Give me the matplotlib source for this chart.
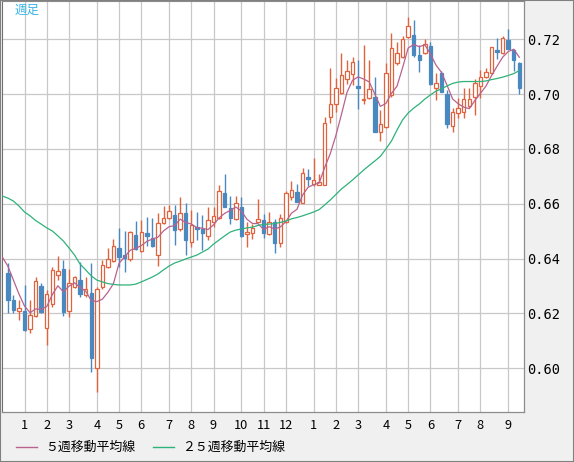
import numpy as np
import pandas as pd
import matplotlib
matplotlib.use('Agg')
import matplotlib.pyplot as plt
from matplotlib.patches import Rectangle
from matplotlib.lines import Line2D
from matplotlib.ticker import FormatStrFormatter

plt.rcParams['font.family'] = ['Noto Sans CJK JP', 'DejaVu Sans']

# 週番号（0 = 1月第1週）、ローソク足は -3 〜 89
weeks = np.arange(-3, 90)

opens = [0.6349, 0.6249, 0.6210, 0.6209, 0.6142, 0.6191, 0.6300, 0.6148, 0.6233, 0.6339,
         0.6362, 0.6209, 0.6298, 0.6322, 0.6266, 0.6276, 0.6000, 0.6295, 0.6368, 0.6392,
         0.6438, 0.6413, 0.6398, 0.6486, 0.6428, 0.6493, 0.6476, 0.6413, 0.6529, 0.6547,
         0.6559, 0.6508, 0.6566, 0.6460, 0.6514, 0.6508, 0.6484, 0.6533, 0.6547, 0.6639,
         0.6584, 0.6543, 0.6588, 0.6489, 0.6493, 0.6535, 0.6541, 0.6490, 0.6532, 0.6456,
         0.6534, 0.6626, 0.6643, 0.6604, 0.6697, 0.6671, 0.6669, 0.6669, 0.6915, 0.6964,
         0.7003, 0.7054, 0.7073, 0.7029, 0.6978, 0.6985, 0.6990, 0.6862, 0.6879, 0.6997,
         0.7112, 0.7135, 0.7210, 0.7216, 0.7143, 0.7149, 0.7176, 0.7024, 0.7076, 0.7000,
         0.6884, 0.6932, 0.6934, 0.6958, 0.6991, 0.7030, 0.7061, 0.7076, 0.7161, 0.7149,
         0.7197, 0.7161, 0.7115]

highs = [0.6385, 0.6267, 0.6249, 0.6304, 0.6249, 0.6334, 0.6310, 0.6286, 0.6371, 0.6410,
         0.6395, 0.6361, 0.6337, 0.6389, 0.6332, 0.6383, 0.6298, 0.6395, 0.6438, 0.6471,
         0.6513, 0.6502, 0.6502, 0.6538, 0.6541, 0.6551, 0.6547, 0.6565, 0.6592, 0.6596,
         0.6596, 0.6624, 0.6604, 0.6577, 0.6571, 0.6559, 0.6588, 0.6589, 0.6669, 0.6709,
         0.6628, 0.6627, 0.6626, 0.6534, 0.6525, 0.6618, 0.6563, 0.6570, 0.6543, 0.6562,
         0.6645, 0.6683, 0.6672, 0.6731, 0.6727, 0.6767, 0.6709, 0.6916, 0.7094, 0.7059,
         0.7149, 0.7126, 0.7135, 0.7124, 0.7179, 0.7124, 0.7062, 0.6942, 0.7112, 0.7223,
         0.7190, 0.7212, 0.7280, 0.7270, 0.7179, 0.7201, 0.7190, 0.7076, 0.7084, 0.7015,
         0.6948, 0.6985, 0.7021, 0.7021, 0.7055, 0.7088, 0.7096, 0.7173, 0.7204, 0.7213,
         0.7238, 0.7166, 0.7118]

lows = [0.6201, 0.6201, 0.6176, 0.6137, 0.6130, 0.6188, 0.6201, 0.6085, 0.6225, 0.6322,
        0.6191, 0.6188, 0.6293, 0.6259, 0.6259, 0.5988, 0.5915, 0.6288, 0.6365, 0.6389,
        0.6371, 0.6352, 0.6392, 0.6431, 0.6425, 0.6446, 0.6444, 0.6373, 0.6526, 0.6543,
        0.6450, 0.6502, 0.6413, 0.6444, 0.6468, 0.6431, 0.6468, 0.6516, 0.6545, 0.6587,
        0.6526, 0.6541, 0.6478, 0.6441, 0.6472, 0.6532, 0.6475, 0.6488, 0.6419, 0.6441,
        0.6530, 0.6614, 0.6605, 0.6602, 0.6665, 0.6666, 0.6667, 0.6667, 0.6896, 0.6935,
        0.7000, 0.7037, 0.7032, 0.6945, 0.6964, 0.6981, 0.6862, 0.6830, 0.6875, 0.6991,
        0.7106, 0.7130, 0.7205, 0.7135, 0.7081, 0.7145, 0.7033, 0.6979, 0.7006, 0.6875,
        0.6863, 0.6912, 0.6912, 0.6948, 0.6924, 0.6985, 0.7058, 0.7072, 0.7128, 0.7146,
        0.7163, 0.7084, 0.7000]

closes = [0.6249, 0.6213, 0.6219, 0.6140, 0.6193, 0.6317, 0.6206, 0.6271, 0.6357, 0.6354,
          0.6206, 0.6310, 0.6332, 0.6272, 0.6288, 0.6036, 0.6288, 0.6376, 0.6399, 0.6446,
          0.6407, 0.6403, 0.6497, 0.6434, 0.6496, 0.6484, 0.6447, 0.6529, 0.6549, 0.6573,
          0.6504, 0.6565, 0.6468, 0.6522, 0.6507, 0.6492, 0.6541, 0.6556, 0.6647, 0.6589,
          0.6547, 0.6602, 0.6484, 0.6497, 0.6511, 0.6544, 0.6495, 0.6535, 0.6456, 0.6547,
          0.6639, 0.6650, 0.6608, 0.6712, 0.6692, 0.6686, 0.6681, 0.6894, 0.6963, 0.7021,
          0.7069, 0.7084, 0.7116, 0.7024, 0.6982, 0.7018, 0.6863, 0.6890, 0.7076, 0.7167,
          0.7149, 0.7200, 0.7247, 0.7143, 0.7126, 0.7183, 0.7037, 0.7042, 0.7009, 0.6891,
          0.6934, 0.6948, 0.6981, 0.6981, 0.7040, 0.7064, 0.7080, 0.7171, 0.7155, 0.7204,
          0.7166, 0.7123, 0.7024]

# 移動平均線は -4 週から（左端で切れている）
ma_weeks = np.arange(-4, 90)
# ５週移動平均の先頭（表示範囲より前の終値を含む部分は図から読み取り）
ma5_head = [0.6406, 0.6373, 0.6322, 0.6271, 0.6227]

ma25 = [0.6628, 0.6621, 0.6610, 0.6592, 0.6570, 0.6556, 0.6539, 0.6526, 0.6512, 0.6501,
        0.6483, 0.6464, 0.6439, 0.6413, 0.6380, 0.6359, 0.6337, 0.6322, 0.6315, 0.6309,
        0.6306, 0.6304, 0.6304, 0.6304, 0.6307, 0.6315, 0.6324, 0.6333, 0.6344, 0.6359,
        0.6373, 0.6384, 0.6391, 0.6399, 0.6406, 0.6413, 0.6424, 0.6435, 0.6453, 0.6468,
        0.6483, 0.6497, 0.6504, 0.6508, 0.6512, 0.6515, 0.6521, 0.6525, 0.6526, 0.6528,
        0.6532, 0.6537, 0.6545, 0.6550, 0.6556, 0.6563, 0.6570, 0.6579, 0.6596, 0.6614,
        0.6634, 0.6654, 0.6670, 0.6687, 0.6705, 0.6723, 0.6740, 0.6756, 0.6773, 0.6800,
        0.6829, 0.6869, 0.6906, 0.6931, 0.6949, 0.6964, 0.6982, 0.6997, 0.7011, 0.7019,
        0.7030, 0.7039, 0.7044, 0.7046, 0.7046, 0.7046, 0.7046, 0.7048, 0.7053, 0.7057,
        0.7062, 0.7068, 0.7075, 0.7086]

month_pos = [0, 4, 8, 13, 17, 21, 26, 30, 34, 39, 43, 47, 52, 56, 60, 65, 69, 73, 78, 82, 87]
month_labels = ['1', '2', '3', '4', '5', '6', '7', '8', '9', '10', '11', '12',
                '1', '2', '3', '4', '5', '6', '7', '8', '9']
y_ticks = [0.60, 0.62, 0.64, 0.66, 0.68, 0.70, 0.72]

UP = '#e0633d'
DOWN = '#4a88c0'
MA5_COLOR = '#b8628e'
MA25_COLOR = '#2eb27a'

# 5週移動平均
ma5 = pd.Series(closes).rolling(5).mean().to_numpy()[4:]
ma5 = np.concatenate([ma5_head, ma5])

fig = plt.figure(figsize=(5.74, 4.62), dpi=100, facecolor='#f0f0f0')
ax = fig.add_axes([2 / 574, 50 / 462, 521.5 / 574, 411 / 462])
ax.set_facecolor('white')

body_w = 0.62
for xi, o, h, l, c in zip(weeks, opens, highs, lows, closes):
    col = UP if c >= o else DOWN
    ax.vlines(xi, l, h, color=col, lw=1.0, zorder=2)
    ax.add_patch(Rectangle((xi - body_w / 2, min(o, c)), body_w, max(abs(c - o), 0.00012),
                           facecolor='white' if c >= o else col, edgecolor=col,
                           lw=0.9, zorder=3))

ax.plot(ma_weeks, ma5, color=MA5_COLOR, lw=0.9, zorder=4)
ax.plot(ma_weeks, ma25, color=MA25_COLOR, lw=0.9, zorder=4)

ax.set_xlim(-4.05, 89.75)
ax.set_ylim(0.58406, 0.73397)
ax.set_xticks(month_pos, month_labels)
ax.set_yticks(y_ticks)
ax.yaxis.set_major_formatter(FormatStrFormatter('%.2f'))
ax.yaxis.tick_right()
ax.tick_params(axis='y', length=0, pad=2.5, labelsize=9.8, labelfontfamily='DejaVu Sans Mono')
ax.tick_params(axis='x', length=0, pad=5, labelsize=9.2)
ax.grid(True, color='#c8c8c8', lw=0.9)
ax.set_axisbelow(True)

for side in ['right', 'bottom']:
    ax.spines[side].set_color('#8c8c8c')
    ax.spines[side].set_linewidth(0.9)
ax.spines['left'].set_color('#6e6e6e')
ax.spines['top'].set_color('#8c8c8c')

# 枠
fig.patches.append(Rectangle((0, 0), 1, 1, transform=fig.transFigure, fill=False,
                             edgecolor='#808080', lw=1.5))

fig.text(15 / 574, 1 - 10.5 / 462, '週足', color='#3ab4e6', fontsize=9,
         va='center', ha='left')

# 凡例
y_leg = 1 - 447 / 462
fig.add_artist(Line2D([16 / 574, 36.5 / 574], [y_leg, y_leg], color=MA5_COLOR, lw=1.0))
fig.text(45 / 574, y_leg, '５週移動平均線', fontsize=9.3, va='center', ha='left')
fig.add_artist(Line2D([153 / 574, 173.5 / 574], [y_leg, y_leg], color=MA25_COLOR, lw=1.0))
fig.text(182 / 574, y_leg, '２５週移動平均線', fontsize=9.3, va='center', ha='left')

fig.savefig('out.png', dpi=100, facecolor=fig.get_facecolor())
